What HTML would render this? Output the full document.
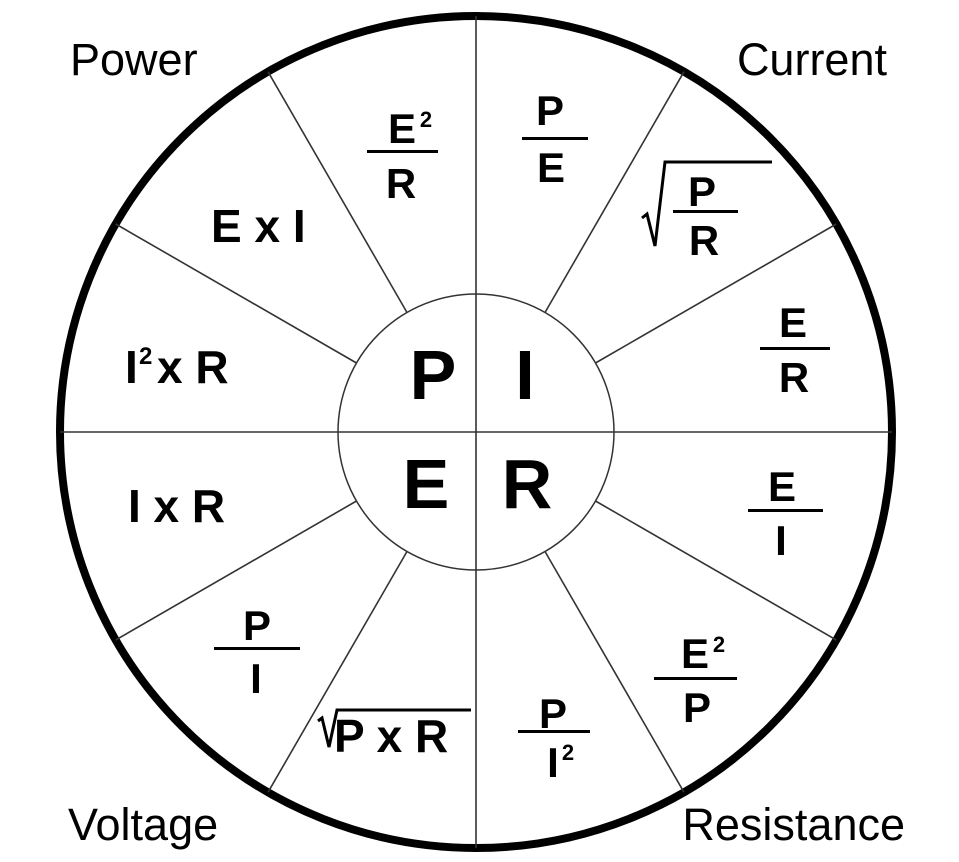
<!DOCTYPE html>
<html><head><meta charset="utf-8"><style>
html,body{margin:0;padding:0;background:#fff;}
svg{display:block;}
.f{font-family:"Liberation Sans",Arial,sans-serif;font-weight:bold;fill:#000;}
.n{font-family:"Liberation Sans",Arial,sans-serif;fill:#000;}
</style></head><body>
<svg width="959" height="862" viewBox="0 0 959 862" xmlns="http://www.w3.org/2000/svg">
<rect width="959" height="862" fill="#fff"/>
<circle cx="476" cy="432" r="416" fill="none" stroke="#000" stroke-width="8"/>
<circle cx="476" cy="432" r="138" fill="none" stroke="#333" stroke-width="1.5"/>
<g stroke="#333" stroke-width="1.6">
<line x1="476" y1="16" x2="476" y2="848"/>
<line x1="60" y1="432" x2="892" y2="432"/>
<line x1="545" y1="312.5" x2="684" y2="71.7"/>
<line x1="595.5" y1="363" x2="836.3" y2="224"/>
<line x1="595.5" y1="501" x2="836.3" y2="640"/>
<line x1="545" y1="551.5" x2="684" y2="792.3"/>
<line x1="407" y1="551.5" x2="268" y2="792.3"/>
<line x1="356.5" y1="501" x2="115.7" y2="640"/>
<line x1="356.5" y1="363" x2="115.7" y2="224"/>
<line x1="407" y1="312.5" x2="268" y2="71.7"/>
</g>
<g class="n" font-size="45">
<text x="70" y="75">Power</text>
<text x="887" y="75" text-anchor="end">Current</text>
<text x="68" y="840">Voltage</text>
<text x="905" y="840" text-anchor="end">Resistance</text>
</g>
<g class="f" font-size="70" text-anchor="middle">
<text x="433" y="399">P</text>
<text x="525" y="399">I</text>
<text x="426" y="508">E</text>
<text x="527" y="508">R</text>
</g>
<g class="f" font-size="46">
<text x="211" y="242">E x I</text>
<text x="125" y="383">I</text><text x="139" y="364" font-size="24">2</text><text x="157" y="383">x R</text>
<text x="128" y="522">I x R</text>
</g>
<g class="f" font-size="42" text-anchor="middle">
<!-- E2/R -->
<text x="402" y="143">E</text><text x="426" y="127" font-size="22">2</text>
<rect x="367" y="150" width="71" height="3"/>
<text x="401" y="198">R</text>
<!-- P/E -->
<text x="550" y="125">P</text>
<rect x="522" y="137" width="66" height="3"/>
<text x="551" y="182">E</text>
<!-- sqrt P/R -->
<text x="702" y="206">P</text>
<rect x="673" y="210" width="65" height="3"/>
<text x="704" y="255">R</text>
<!-- E/R -->
<text x="793" y="337">E</text>
<rect x="760" y="347" width="70" height="3"/>
<text x="794" y="392">R</text>
<!-- E/I -->
<text x="782" y="501">E</text>
<rect x="748" y="509" width="75" height="3"/>
<text x="781" y="555">I</text>
<!-- E2/P -->
<text x="695" y="668">E</text><text x="719" y="652" font-size="22">2</text>
<rect x="654" y="677" width="83" height="3"/>
<text x="697" y="722">P</text>
<!-- P/I2 -->
<text x="553" y="728">P</text>
<rect x="518" y="730" width="72" height="3"/>
<text x="553" y="777">I</text><text x="568" y="760" font-size="22">2</text>
<!-- P/I -->
<text x="257" y="640">P</text>
<rect x="214" y="647" width="86" height="3"/>
<text x="256" y="693">I</text>
</g>
<g fill="none" stroke="#000" stroke-width="3">
<polyline points="642,218 647,214 655,246 665,162 772,162"/>
<polyline points="318,721 322,718 329,747 337,710 471,710"/>
</g>
<text class="f" x="334" y="752" font-size="46">P x R</text>
</svg>
</body></html>
